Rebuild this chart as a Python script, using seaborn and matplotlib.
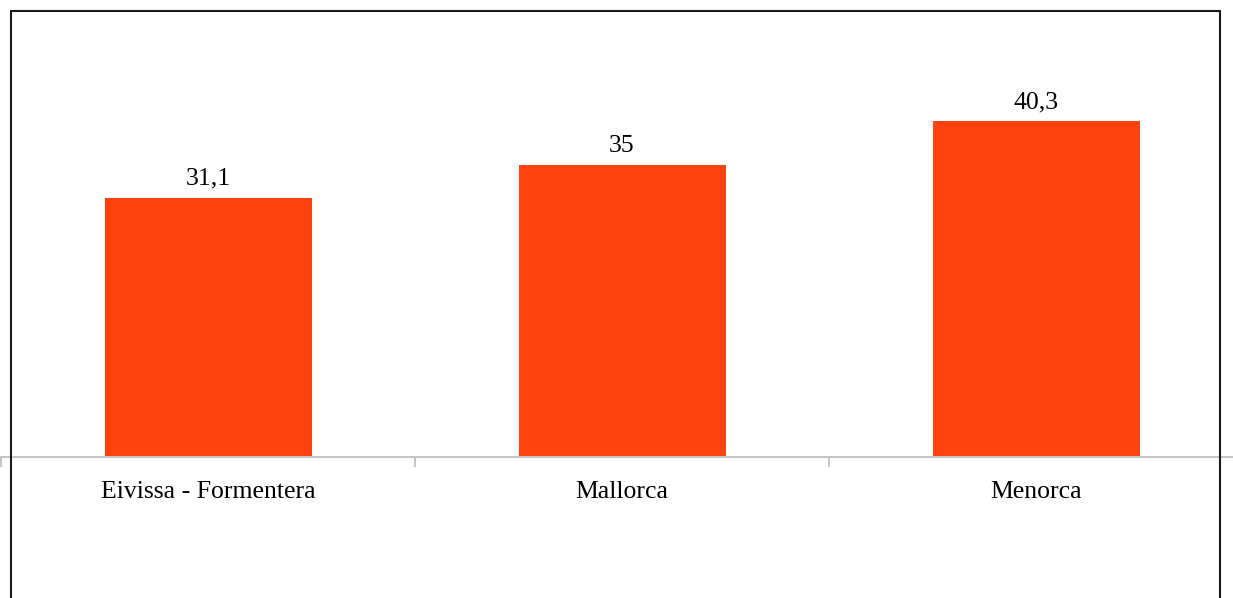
import matplotlib
matplotlib.use("Agg")
import matplotlib.pyplot as plt
import seaborn as sns
import pandas as pd
from matplotlib.patches import Rectangle

categories = ["Eivissa - Formentera", "Mallorca", "Menorca"]
values = [31.1, 35.0, 40.3]
value_labels = ["31,1", "35", "40,3"]

sns.set_style("white")
plt.rcParams['font.family'] = ['Liberation Serif', 'DejaVu Serif']

W, H = 1233, 598
fig = plt.figure(figsize=(W / 100, H / 100), dpi=100)
fig.patch.set_facecolor("white")

# axes: x from -0.5..2.5 spans px 1..1243, y baseline at px 457
y_top = 50.0
px_per_unit = 8.33
ax_h_px = y_top * px_per_unit
ax = fig.add_axes([1 / W, (H - 457) / H, 1242 / W, ax_h_px / H])

df = pd.DataFrame({"cat": categories, "val": values})
sns.barplot(data=df, x="cat", y="val", color="#ff420e", saturation=1,
            width=0.5, ax=ax, edgecolor="none")

ax.set_xlim(-0.5, 2.5)
ax.set_ylim(0, y_top)
ax.set_xlabel("")
ax.set_ylabel("")
ax.set_yticks([])
for s in ["top", "right", "left"]:
    ax.spines[s].set_visible(False)
ax.spines["bottom"].set_color("#c4c4c4")
ax.spines["bottom"].set_linewidth(1.5)
ax.patch.set_alpha(0)

ax.set_xticks(range(len(categories)))
ax.set_xticklabels(categories, fontsize=18.5, color="#000000")
ax.tick_params(axis="x", which="major", length=0, pad=17, bottom=True)
ax.set_xticks([-0.5, 0.5, 1.5, 2.5], minor=True)
ax.tick_params(axis="x", which="minor", length=7.5, width=1.4,
               color="#c4c4c4", direction="out", bottom=True)

for i, (v, lab) in enumerate(zip(values, value_labels)):
    ax.annotate(lab, xy=(i, v), xytext=(0, 9.5), textcoords="offset points",
                ha="center", va="baseline", fontsize=18.5, color="#000000")

# outer frame
fig.patches.append(Rectangle((11 / W, -0.05), (1220 - 11) / W, (H - 11) / H + 0.05,
                             transform=fig.transFigure, fill=False,
                             edgecolor="#1a1a1a", linewidth=1.5, zorder=0))

fig.savefig("out.png", dpi=100, facecolor="white")
